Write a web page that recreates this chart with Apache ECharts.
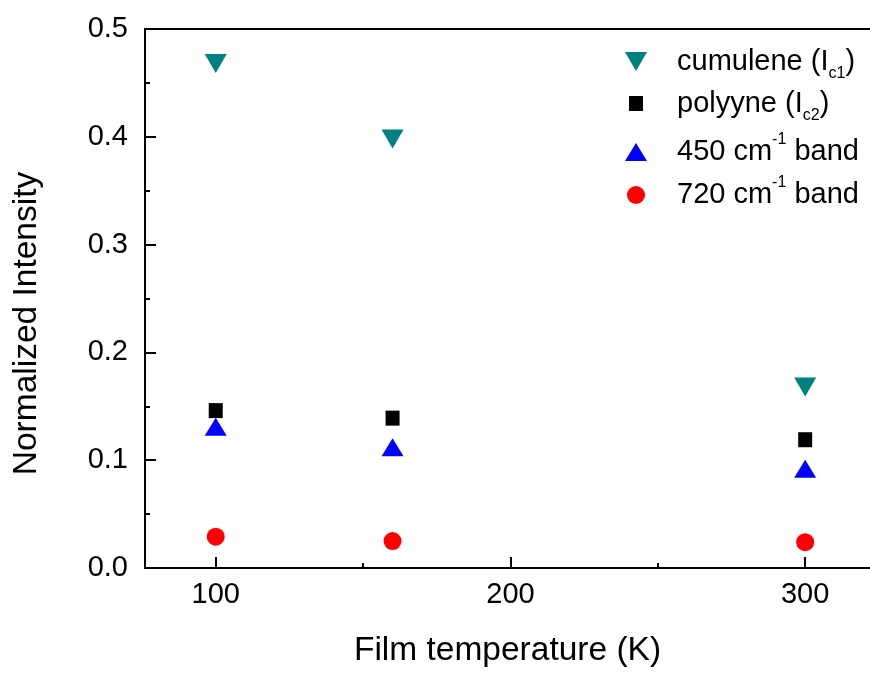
<!DOCTYPE html>
<html>
<head>
<meta charset="utf-8">
<script src="https://cdn.jsdelivr.net/npm/echarts@6/dist/echarts.min.js"></script>
<style>
  html, body { margin: 0; padding: 0; background: #fff; }
  #chart { width: 870px; height: 673px; }
</style>
</head>
<body>
<div id="chart"></div>
<script>
// data
const temps = [100, 160, 300];
const cumulene = [0.468, 0.398, 0.168];
const polyyne = [0.146, 0.139, 0.119];
const band450 = [0.131, 0.112, 0.092];
const band720 = [0.029, 0.025, 0.024];

const xTicks = [100, 200, 300];
const xMinorTicks = [150, 250];
const seriesNames = ['cumulene (Ic1)', 'polyyne (Ic2)', '450 cm-1 band', '720 cm-1 band'];
const legendLabels = [
  '{m|cumulene (I}{sub|c1}{m|)}',
  '{m|polyyne (I}{sub|c2}{m|)}',
  '{m|450 cm}{sup|-1}{m| band}',
  '{m|720 cm}{sup|-1}{m| band}'
];

const FONT = 'Arial, "Liberation Sans", sans-serif';
const X_MIN = 76, X_MAX = 322;

const chart = echarts.init(document.getElementById('chart'));

// legend: one component per row so each icon keeps its own size
const legendRows = [
  { top: 67, w: 22, h: 19, icon: 'path://M0,0L20,0L10,18Z' },
  { top: 109, w: 14, h: 15, icon: 'rect' },
  { top: 152, w: 22, h: 18, icon: 'triangle' },
  { top: 195, w: 18, h: 18, icon: 'circle' }
];
const legends = legendRows.map((r, i) => ({
  data: [{ name: seriesNames[i], icon: r.icon }],
  left: 636 - r.w / 2,
  top: r.top - 20,
  orient: 'vertical',
  itemWidth: r.w,
  itemHeight: r.h,
  symbolKeepAspect: false,
  padding: 0,
  formatter: () => legendLabels[i],
  textStyle: {
    padding: [0, 0, 0, 677 - (636 + r.w / 2) - 5],
    rich: {
      m: { fontSize: 29, fontFamily: FONT, color: '#000', lineHeight: 40 },
      sub: { fontSize: 16, fontFamily: FONT, color: '#000', lineHeight: 16, verticalAlign: 'bottom' },
      sup: { fontSize: 16, fontFamily: FONT, color: '#000', lineHeight: 16, verticalAlign: 'top' }
    }
  }
}));

const toPairs = vals => temps.map((t, i) => [t, vals[i]]);

const option = {
  animation: false,
  backgroundColor: '#fff',
  grid: { left: 145, right: 0, top: 29, bottom: 102 },
  legend: legends,
  xAxis: [
    {
      type: 'value',
      min: X_MIN,
      max: X_MAX,
      name: 'Film temperature (K)',
      nameLocation: 'middle',
      nameGap: 66,
      nameTextStyle: { fontSize: 33.5, fontFamily: FONT, color: '#000' },
      axisLine: { show: true, lineStyle: { color: '#000', width: 2 } },
      axisTick: { show: true, inside: true, length: 11, lineStyle: { color: '#000', width: 2 }, customValues: xTicks },
      axisLabel: { fontSize: 29, fontFamily: FONT, color: '#000', margin: 12, customValues: xTicks },
      splitLine: { show: false }
    },
    {
      type: 'value',
      min: X_MIN,
      max: X_MAX,
      position: 'bottom',
      axisLine: { show: false },
      axisTick: { show: true, inside: true, length: 5, lineStyle: { color: '#000', width: 2 }, customValues: xMinorTicks },
      axisLabel: { show: false },
      splitLine: { show: false }
    },
    {
      type: 'value',
      min: X_MIN,
      max: X_MAX,
      position: 'top',
      axisLine: { show: true, lineStyle: { color: '#000', width: 2 } },
      axisTick: { show: false },
      axisLabel: { show: false },
      splitLine: { show: false }
    }
  ],
  yAxis: {
    type: 'value',
    min: 0,
    max: 0.5,
    interval: 0.1,
    name: 'Normalized Intensity',
    nameLocation: 'middle',
    nameGap: 101,
    nameTextStyle: { fontSize: 33.5, fontFamily: FONT, color: '#000', padding: [0, 50, 0, 0] },
    axisLine: { show: true, lineStyle: { color: '#000', width: 2 } },
    axisTick: { show: true, inside: true, length: 11, lineStyle: { color: '#000', width: 2 } },
    minorTick: { show: true, splitNumber: 2, length: 5, lineStyle: { color: '#000', width: 2 } },
    axisLabel: { fontSize: 29, fontFamily: FONT, color: '#000', margin: 17, formatter: v => v.toFixed(1) },
    splitLine: { show: false }
  },
  series: [
    {
      name: seriesNames[0],
      type: 'scatter',
      data: toPairs(cumulene),
      symbol: 'triangle',
      symbolRotate: 180,
      symbolSize: [22, 19],
      itemStyle: { color: '#008080', opacity: 1 }
    },
    {
      name: seriesNames[1],
      type: 'scatter',
      data: toPairs(polyyne),
      symbol: 'rect',
      symbolSize: [14, 15],
      itemStyle: { color: '#000', opacity: 1 }
    },
    {
      name: seriesNames[2],
      type: 'scatter',
      data: toPairs(band450),
      symbol: 'triangle',
      symbolSize: [22, 18],
      itemStyle: { color: '#0000ff', opacity: 1 }
    },
    {
      name: seriesNames[3],
      type: 'scatter',
      data: toPairs(band720),
      symbol: 'circle',
      symbolSize: 18,
      itemStyle: { color: '#ff0000', opacity: 1 }
    }
  ]
};

chart.setOption(option);
</script>
</body>
</html>
